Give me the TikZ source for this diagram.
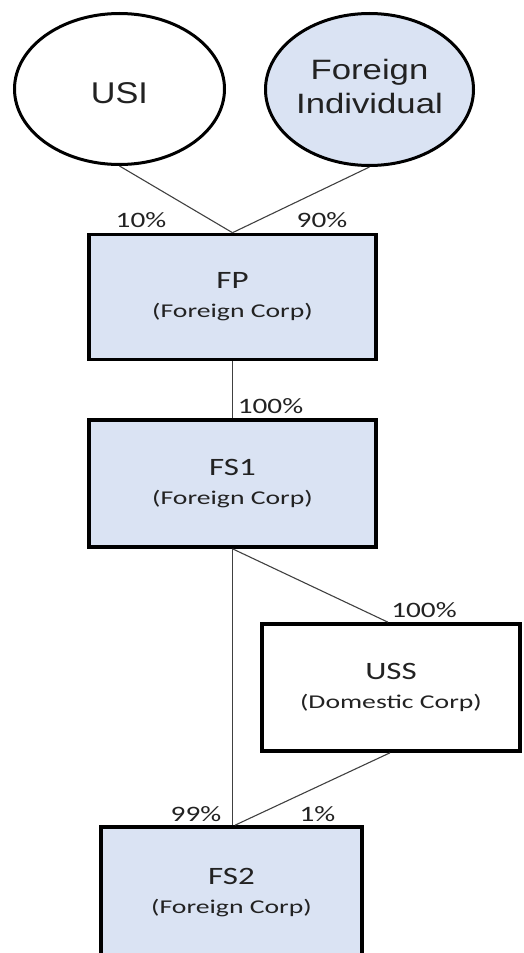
\documentclass[tikz,border=0pt]{standalone}
\usepackage{fontspec}
\usepackage{graphicx}
\usetikzlibrary{shapes.geometric}
\newfontfamily\labelfont{Carlito}
\newfontfamily\ovalfont{Liberation Sans}
\definecolor{corpfill}{HTML}{DAE3F3}
\definecolor{inkgray}{HTML}{222222}
\definecolor{linkgray}{HTML}{404040}
% text helpers: entity name, entity type, ownership share
\newcommand\boxtitle[1]{\scalebox{1.32}[1]{\labelfont\fontsize{25}{29}\selectfont #1}}
\newcommand\boxsub[1]{\scalebox{1.42}[1]{\labelfont\fontsize{19.5}{29}\selectfont #1}}
\newcommand\pct[1]{\scalebox{1.33}[1]{\labelfont\fontsize{22}{26}\selectfont #1}}
\tikzset{
  owner/.style={ellipse, draw=black, line width=3pt, text=inkgray, align=center, inner sep=0pt},
  corp/.style={rectangle, draw=black, line width=3.6pt, text=inkgray, align=center,
               inner sep=0pt, font=\fontsize{19.5}{29}\selectfont},
  foreign/.style={corp, fill=corpfill},
  domestic/.style={corp, fill=white},
  link/.style={draw=linkgray, line width=1.1pt},
  share/.style={anchor=base, inner sep=0pt, text=inkgray}
}
\begin{document}
\begin{tikzpicture}[x=1pt, y=-1pt]
\useasboundingbox (0,0) rectangle (523,953);
\clip (0,0) rectangle (523,953);

% shareholders
\node[owner, fill=white, minimum width=210, minimum height=151, text height=29pt]
  (usi) at (119.5,89) {\scalebox{1.14}[1]{\ovalfont\fontsize{30}{34}\selectfont USI}};
\node[owner, fill=corpfill, minimum width=208, minimum height=152, text depth=6pt,
      font=\fontsize{28}{34}\selectfont]
  (fi) at (369.5,89.5) {\scalebox{1.24}[1]{\ovalfont\fontsize{28}{34}\selectfont Foreign}\\
                        \scalebox{1.24}[1]{\ovalfont\fontsize{28}{34}\selectfont Individual}};

% corporations
\node[foreign, minimum width=287, minimum height=125] (fp) at (232.5,297)
  {\boxtitle{FP}\\\boxsub{(Foreign Corp)}};
\node[foreign, minimum width=287, minimum height=127] (fs1) at (232.5,483.5)
  {\boxtitle{FS1}\\\boxsub{(Foreign Corp)}};
\node[domestic, minimum width=258, minimum height=127] (uss) at (391,687.5)
  {\boxtitle{USS}\\\boxsub{(Domestic Corp)}};
% the lowest box runs on past the bottom edge of the page
\node[foreign, minimum width=261, minimum height=141, text depth=13pt] (fs2) at (231.5,897.5)
  {\boxtitle{FS2}\\\boxsub{(Foreign Corp)}};

% ownership links
\draw[link] (usi.south) -- (fp.north);
\draw[link] (fi.south) -- (fp.north);
\draw[link] (fp.south) -- (fs1.north);
\draw[link] (fs1.south) -- (fs1.south |- fs2.north);
\draw[link] (fs1.south) -- ([xshift=-3pt]uss.north);
\draw[link] ([xshift=-1pt]uss.south) -- ([xshift=3.5pt]fs2.north);

% ownership shares
\node[share] (s10)  at (141,227.5)   {\pct{10\%}};
\node[share] (s90)  at (322,227.5)   {\pct{90\%}};
\node[share] (s100a) at (270.5,413)  {\pct{100\%}};
\node[share] (s100b) at (424,617)    {\pct{100\%}};
\node[share] (s99)  at (196,821)     {\pct{99\%}};
\node[share] (s1)   at (317.5,821)   {\pct{1\%}};
\end{tikzpicture}
\end{document}
